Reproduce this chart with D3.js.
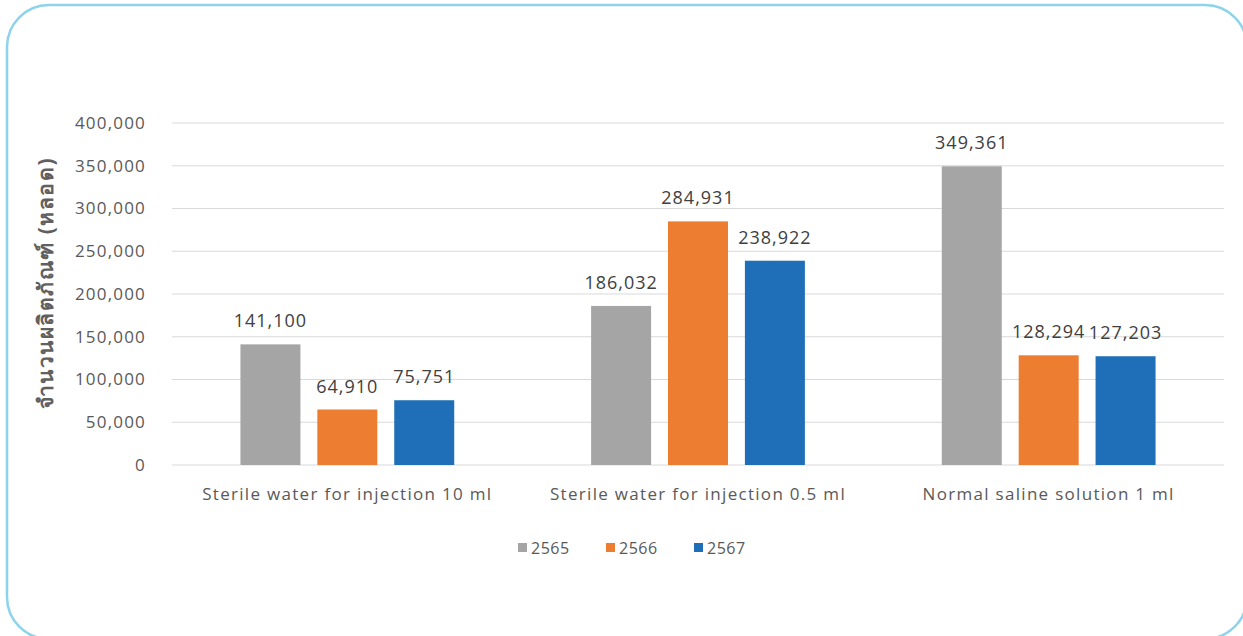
<!DOCTYPE html>
<html>
<head>
<meta charset="utf-8">
<script src="https://cdn.jsdelivr.net/npm/d3@7"></script>
<style>
  body { margin: 0; background: #fff; }
  svg { display: block; font-family: "Open Sans", "Noto Sans", sans-serif; }
</style>
</head>
<body>
<svg id="chart" width="1243" height="636"></svg>
<script>
// values
var categories = ["Sterile water for injection 10 ml", "Sterile water for injection 0.5 ml", "Normal saline solution 1 ml"];
var years = ["2565", "2566", "2567"];
var v2565 = [141100, 186032, 349361];
var v2566 = [64910, 284931, 128294];
var v2567 = [75751, 238922, 127203];
var yTicks = [0, 50000, 100000, 150000, 200000, 250000, 300000, 350000, 400000];
var colors = ["#a5a5a5", "#ed7d31", "#1f6fb8"];
var yTitle = "จำนวนผลิตภัณฑ์ (หลอด)";

var series = [v2565, v2566, v2567];
var svg = d3.select("#chart");

// rounded frame
svg.append("rect")
    .attr("x", 7).attr("y", 5)
    .attr("width", 1240).attr("height", 634)
    .attr("rx", 42).attr("ry", 42)
    .attr("fill", "#fff")
    .attr("stroke", "#8dd3ec")
    .attr("stroke-width", 2.5);

var plotLeft = 172, plotRight = 1224, plotTop = 123, plotBottom = 465;

var x0 = d3.scaleBand().domain(categories).range([plotLeft, plotRight]).paddingInner(0).paddingOuter(0);
var x1 = d3.scaleBand().domain(years).range([0, x0.bandwidth()])
    .paddingInner(0.22).paddingOuter(0.89);
var y = d3.scaleLinear().domain([0, 400000]).range([plotBottom, plotTop]);

// gridlines
svg.append("g").selectAll("line")
    .data(yTicks)
    .enter().append("line")
    .attr("x1", plotLeft).attr("x2", plotRight)
    .attr("y1", function(d){ return y(d); })
    .attr("y2", function(d){ return y(d); })
    .attr("stroke", "#d9d9d9")
    .attr("stroke-width", 1);

// y axis labels
var yAxis = d3.axisLeft(y).tickValues(yTicks).tickSize(0).tickPadding(0)
    .tickFormat(d3.format(","));
var gy = svg.append("g")
    .attr("transform", "translate(146,0)")
    .call(yAxis);
gy.select(".domain").remove();
gy.selectAll("text")
    .attr("font-size", "17px")
    .attr("letter-spacing", "1.2px")
    .attr("font-family", "'Open Sans', 'Noto Sans', sans-serif")
    .attr("fill", "#595959");

// y title
svg.append("text")
    .attr("transform", "translate(53,283) rotate(-90)")
    .attr("text-anchor", "middle")
    .attr("font-size", "21px")
    .attr("letter-spacing", "1.5px")
    .attr("font-weight", "bold")
    .attr("font-family", "'Noto Sans', sans-serif")
    .attr("fill", "#606060")
    .text(yTitle);

// bars
var groups = svg.append("g").selectAll("g")
    .data(categories)
    .enter().append("g")
    .attr("transform", function(d){ return "translate(" + x0(d) + ",0)"; });

groups.selectAll("rect")
    .data(function(d, i){ return years.map(function(yr, j){ return {yr: yr, v: series[j][i], j: j}; }); })
    .enter().append("rect")
    .attr("x", function(d){ return x1(d.yr); })
    .attr("y", function(d){ return y(d.v); })
    .attr("width", x1.bandwidth())
    .attr("height", function(d){ return y(0) - y(d.v); })
    .attr("fill", function(d){ return colors[d.j]; });

groups.selectAll("text.val")
    .data(function(d, i){ return years.map(function(yr, j){ return {yr: yr, v: series[j][i]}; }); })
    .enter().append("text")
    .attr("class", "val")
    .attr("x", function(d){ return x1(d.yr) + x1.bandwidth() / 2; })
    .attr("y", function(d){ return y(d.v) - 17; })
    .attr("text-anchor", "middle")
    .attr("font-size", "18px")
    .attr("letter-spacing", "1px")
    .attr("fill", "#404040")
    .text(function(d){ return d3.format(",")(d.v); });

// category labels
svg.append("g").selectAll("text")
    .data(categories)
    .enter().append("text")
    .attr("x", function(d){ return x0(d) + x0.bandwidth() / 2; })
    .attr("y", 500)
    .attr("text-anchor", "middle")
    .attr("font-size", "17px")
    .attr("letter-spacing", "1.3px")
    .attr("fill", "#595959")
    .text(function(d){ return d; });

// legend
var legend = svg.append("g").attr("transform", "translate(518,548)");
var lg = legend.selectAll("g")
    .data(years)
    .enter().append("g")
    .attr("transform", function(d, i){ return "translate(" + (i * 88) + ",0)"; });
lg.append("rect")
    .attr("x", 0).attr("y", -5)
    .attr("width", 9).attr("height", 9)
    .attr("fill", function(d, i){ return colors[i]; });
lg.append("text")
    .attr("x", 13).attr("y", 6)
    .attr("font-size", "16px")
    .attr("letter-spacing", "0.5px")
    .attr("fill", "#595959")
    .text(function(d){ return d; });
</script>
</body>
</html>
